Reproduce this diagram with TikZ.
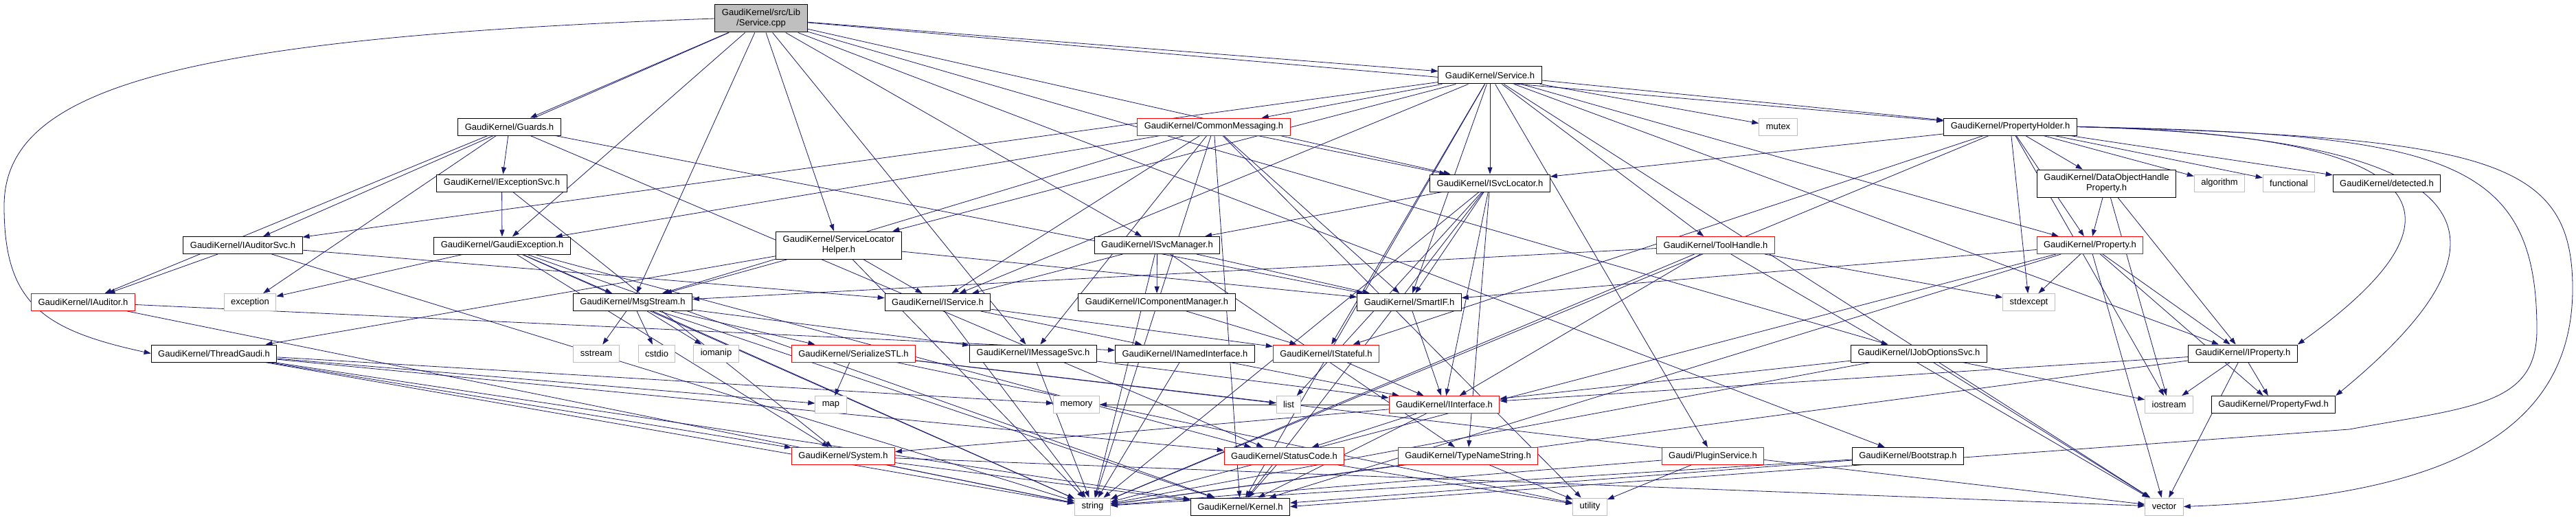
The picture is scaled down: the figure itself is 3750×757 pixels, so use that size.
\documentclass[tikz,border=0pt]{standalone}
\usepackage{fontspec}
\setmainfont{Liberation Sans}
\usepackage{tikz}
\usetikzlibrary{arrows.meta,backgrounds}

\definecolor{edgeblue}{HTML}{191970}
\definecolor{sysgray}{HTML}{BFBFBF}

\begin{document}
\begin{tikzpicture}[
    x=1pt, y=1pt,
    hdr/.style={rectangle, draw=black, fill=white, line width=1pt, font=\fontsize{13}{15}\selectfont, inner xsep=10pt, inner ysep=2pt, minimum height=25pt, align=center},
    redhdr/.style={hdr, draw=red},
    syshdr/.style={hdr, draw=sysgray},
    srcfile/.style={hdr, fill=sysgray, minimum height=40pt},
    twoline/.style={minimum height=40pt},
    dep/.style={draw=edgeblue, line width=0.8pt, -{Triangle[length=10pt,width=7pt]}}
]
\useasboundingbox (0,0) rectangle (3750,-757);

% Source file and first levels
\node [srcfile] (service_cpp) at (1108,-27) {GaudiKernel/src/Lib\\/Service.cpp};
\node [hdr] (service_h) at (2169,-109.5) {GaudiKernel/Service.h};
\node [hdr] (guards) at (741.5,-184.5) {GaudiKernel/Guards.h};
\node [redhdr] (commonmessaging) at (1767,-184.5) {GaudiKernel/CommonMessaging.h};
\node [syshdr] (mutex) at (2588.5,-184.5) {mutex};
\node [hdr] (propertyholder) at (2926.5,-184.5) {GaudiKernel/PropertyHolder.h};
\node [hdr] (iexceptionsvc) at (730.5,-266.5) {GaudiKernel/IExceptionSvc.h};
\node [hdr] (isvclocator) at (2169,-266.5) {GaudiKernel/ISvcLocator.h};
\node [hdr, twoline] (dohproperty) at (3066.5,-267) {GaudiKernel/DataObjectHandle\\Property.h};
\node [syshdr] (algorithm) at (3231,-266.5) {algorithm};
\node [syshdr] (functional) at (3332,-266.5) {functional};
\node [hdr] (detected) at (3474.5,-266.5) {GaudiKernel/detected.h};

% Middle levels
\node [hdr] (iauditorsvc) at (353.5,-357) {GaudiKernel/IAuditorSvc.h};
\node [hdr] (gaudi_exception) at (731,-357.5) {GaudiKernel/GaudiException.h};
\node [hdr, twoline] (sl_helper) at (1221,-357) {GaudiKernel/ServiceLocator\\Helper.h};
\node [hdr] (isvcmanager) at (1684.5,-357) {GaudiKernel/ISvcManager.h};
\node [redhdr] (toolhandle) at (2497.5,-357) {GaudiKernel/ToolHandle.h};
\node [redhdr] (property) at (3042.5,-357) {GaudiKernel/Property.h};
\node [redhdr] (iauditor) at (121,-440) {GaudiKernel/IAuditor.h};
\node [syshdr] (exception) at (364,-440) {exception};
\node [hdr] (msgstream) at (921,-440) {GaudiKernel/MsgStream.h};
\node [hdr] (iservice) at (1365,-440) {GaudiKernel/IService.h};
\node [hdr] (icomponentmanager) at (1684,-440) {GaudiKernel/IComponentManager.h};
\node [hdr] (smartif) at (2051.5,-440) {GaudiKernel/SmartIF.h};
\node [syshdr] (stdexcept) at (2953.5,-440) {stdexcept};
\node [hdr] (threadgaudi) at (311.5,-514.5) {GaudiKernel/ThreadGaudi.h};
\node [syshdr] (sstream) at (868,-514.5) {sstream};
\node [syshdr] (cstdio) at (956,-514.5) {cstdio};
\node [syshdr] (iomanip) at (1042.5,-514.5) {iomanip};
\node [redhdr] (serializestl) at (1242.5,-514.5) {GaudiKernel/SerializeSTL.h};
\node [hdr] (imessagesvc) at (1504,-514.5) {GaudiKernel/IMessageSvc.h};
\node [hdr] (inamed) at (1725,-514.5) {GaudiKernel/INamedInterface.h};
\node [redhdr] (istateful) at (1930.5,-514.5) {GaudiKernel/IStateful.h};
\node [hdr] (ijoboptionssvc) at (2793.5,-514.5) {GaudiKernel/IJobOptionsSvc.h};
\node [hdr] (iproperty) at (3265,-514.5) {GaudiKernel/IProperty.h};

% Lower levels
\node [syshdr] (map) at (1209.5,-589) {map};
\node [syshdr] (memory) at (1567,-589) {memory};
\node [syshdr] (list) at (1876,-589) {list};
\node [redhdr] (iinterface) at (2102.5,-589) {GaudiKernel/IInterface.h};
\node [syshdr] (iostream) at (3157.5,-589) {iostream};
\node [hdr] (propertyfwd) at (3309.5,-589) {GaudiKernel/PropertyFwd.h};
\node [redhdr] (system) at (1227.5,-664) {GaudiKernel/System.h};
\node [redhdr] (statuscode) at (1869.5,-664) {GaudiKernel/StatusCode.h};
\node [redhdr] (typenamestring) at (2137,-664) {GaudiKernel/TypeNameString.h};
\node [redhdr] (pluginservice) at (2493.5,-664) {Gaudi/PluginService.h};
\node [hdr] (bootstrap) at (2777.5,-664) {GaudiKernel/Bootstrap.h};
\node [syshdr] (string) at (1590.5,-737.5) {string};
\node [hdr] (kernel) at (1805.5,-737.5) {GaudiKernel/Kernel.h};
\node [syshdr] (utility) at (2314.5,-737.5) {utility};
\node [syshdr] (vector) at (3150.5,-737.5) {vector};

% Bend points of the outer connectors
\coordinate (leftbend) at (6,-300);
\coordinate (rightbend) at (3745,-420);
\coordinate (rightbend2) at (3693,-480);
\coordinate (bottomrun) at (3420,-625);

\begin{scope}[on background layer]
% Edges - Service.cpp
\path [dep] (service_cpp) -- (service_h);
\path [dep] (service_cpp) -- (guards);
\path [dep] (service_cpp) -- (gaudi_exception);
\path [dep] (service_cpp) -- (iauditorsvc);
\path [dep] (service_cpp.west) .. controls (250,-55) and (6,-130) .. (leftbend) .. controls (6,-440) and (60,-480) .. (threadgaudi.west);
\path [dep] (service_cpp) -- (msgstream);
\path [dep] (service_cpp) -- (sl_helper);
\path [dep] (service_cpp) -- (isvclocator);
\path [dep] (service_cpp) -- (isvcmanager);
\path [dep] (service_cpp) -- (imessagesvc);
\path [dep] (service_cpp) -- (ijoboptionssvc);
\path [dep] (service_cpp) -- (propertyholder);
\path [dep] (service_cpp) -- (bootstrap);

% Edges - Service.h
\path [dep] (service_h) -- (commonmessaging);
\path [dep] (service_h) -- (iauditorsvc);
\path [dep] (service_h) -- (sl_helper);
\path [dep] (service_h) -- (isvclocator);
\path [dep] (service_h) -- (smartif);
\path [dep] (service_h) -- (iservice);
\path [dep] (service_h) -- (istateful);
\path [dep] (service_h) -- (toolhandle);
\path [dep] (service_h) -- (mutex);
\path [dep] (service_h) -- (propertyholder);
\path [dep] (service_h) -- (property);
\path [dep] (service_h) -- (iproperty);
\path [dep] (service_h) -- (pluginservice);
\path [dep] (service_h) -- (vector);
\path [dep] (service_h) -- (kernel);

% Edges - Guards.h, IExceptionSvc.h, GaudiException.h
\path [dep] (guards) -- (iexceptionsvc);
\path [dep] (guards) -- (iauditor);
\path [dep] (guards) -- (exception);
\path [dep] (guards) -- (smartif);
\path [dep] (guards) -- (statuscode);
\path [dep] (iexceptionsvc) -- (gaudi_exception);
\path [dep] (iexceptionsvc) -- (system);
\path [dep] (gaudi_exception) -- (exception);
\path [dep] (gaudi_exception) -- (msgstream);
\path [dep] (gaudi_exception) -- (string);
\path [dep] (gaudi_exception) -- (kernel);
\path [dep] (gaudi_exception) -- (statuscode);
\path [dep] (gaudi_exception) -- (system);

% Edges - auditing and threads
\path [dep] (iauditorsvc) -- (iauditor);
\path [dep] (iauditorsvc) -- (iservice);
\path [dep] (iauditorsvc) -- (string);
\path [dep] (iauditor) -- (inamed);
\path [dep] (iauditor) -- (string);
\path [dep] (threadgaudi) -- (kernel);
\path [dep] (threadgaudi) -- (statuscode);
\path [dep] (threadgaudi) -- (system);
\path [dep] (threadgaudi) -- (string);
\path [dep] (threadgaudi) -- (map);
\path [dep] (threadgaudi) -- (memory);

% Edges - CommonMessaging.h, ServiceLocatorHelper.h
\path [dep] (commonmessaging) -- (msgstream);
\path [dep] (commonmessaging) -- (imessagesvc);
\path [dep] (commonmessaging) -- (iservice);
\path [dep] (commonmessaging) -- (gaudi_exception);
\path [dep] (commonmessaging) -- (isvclocator);
\path [dep] (commonmessaging) -- (smartif);
\path [dep] (commonmessaging) -- (string);
\path [dep] (commonmessaging) -- (utility);
\path [dep] (commonmessaging) -- (kernel);
\path [dep] (sl_helper) -- (threadgaudi);
\path [dep] (sl_helper) -- (msgstream);
\path [dep] (sl_helper) -- (iservice);
\path [dep] (sl_helper) -- (smartif);
\path [dep] (sl_helper) -- (string);

% Edges - MsgStream.h, SerializeSTL.h
\path [dep] (msgstream) -- (imessagesvc);
\path [dep] (msgstream) -- (serializestl);
\path [dep] (msgstream) -- (sstream);
\path [dep] (msgstream) -- (cstdio);
\path [dep] (msgstream) -- (iomanip);
\path [dep] (msgstream) -- (string);
\path [dep] (msgstream) -- (kernel);
\path [dep] (serializestl) -- (map);
\path [dep] (serializestl) -- (list);
\path [dep] (serializestl) -- (vector);
\path [dep] (serializestl) -- (utility);

% Edges - service interfaces
\path [dep] (isvcmanager) -- (icomponentmanager);
\path [dep] (isvcmanager) -- (iservice);
\path [dep] (isvcmanager) -- (smartif);
\path [dep] (isvcmanager) -- (typenamestring);
\path [dep] (isvcmanager) -- (string);
\path [dep] (icomponentmanager) -- (istateful);
\path [dep] (isvclocator) -- (isvcmanager);
\path [dep] (isvclocator) -- (smartif);
\path [dep] (isvclocator) -- (iinterface);
\path [dep] (isvclocator) -- (typenamestring);
\path [dep] (isvclocator) -- (list);
\path [dep] (isvclocator) -- (string);
\path [dep] (isvclocator) -- (kernel);
\path [dep] (iservice) -- (inamed);
\path [dep] (iservice) -- (istateful);
\path [dep] (iservice) -- (string);
\path [dep] (imessagesvc) -- (iinterface);
\path [dep] (imessagesvc) -- (string);
\path [dep] (inamed) -- (iinterface);
\path [dep] (inamed) -- (string);
\path [dep] (istateful) -- (iinterface);
\path [dep] (smartif) -- (iinterface);

% Edges - base headers
\path [dep] (iinterface) -- (system);
\path [dep] (iinterface) -- (statuscode);
\path [dep] (iinterface) -- (kernel);
\path [dep] (iinterface) -- (memory);
\path [dep] (system) -- (kernel);
\path [dep] (system) -- (string);
\path [dep] (system) -- (vector);
\path [dep] (statuscode) -- (kernel);
\path [dep] (statuscode) -- (utility);
\path [dep] (typenamestring) -- (string);
\path [dep] (typenamestring) -- (utility);
\path [dep] (pluginservice) -- (string);
\path [dep] (pluginservice) -- (utility);
\path [dep] (bootstrap) -- (kernel);
\path [dep] (bootstrap) -- (string);

% Edges - ToolHandle.h, IJobOptionsSvc.h
\path [dep] (toolhandle) -- (msgstream);
\path [dep] (toolhandle) -- (iinterface);
\path [dep] (toolhandle) -- (stdexcept);
\path [dep] (toolhandle) -- (string);
\path [dep] (toolhandle) -- (vector);
\path [dep] (ijoboptionssvc) -- (iinterface);
\path [dep] (ijoboptionssvc) -- (string);
\path [dep] (ijoboptionssvc) -- (vector);
\path [dep] (ijoboptionssvc) -- (iostream);

% Edges - properties
\path [dep] (propertyholder) -- (isvclocator);
\path [dep] (propertyholder) -- (istateful);
\path [dep] (propertyholder) -- (dohproperty);
\path [dep] (propertyholder) -- (property);
\path [dep] (propertyholder) -- (algorithm);
\path [dep] (propertyholder) -- (functional);
\path [dep] (propertyholder) -- (detected);
\path [dep] (propertyholder) -- (stdexcept);
\path [dep] (propertyholder) -- (iostream);
\path [dep] (propertyholder) -- (string);
\path [dep] (propertyholder.east) .. controls (3500,-195) and (3640,-290) .. (iproperty.north east);
\path [dep] (propertyholder.east) .. controls (3600,-200) and (3700,-330) .. (propertyfwd.north east);
\path [dep] (propertyholder.east) .. controls (3620,-200) and (3745,-230) .. (rightbend) .. controls (3745,-660) and (3500,-725) .. (vector.east);
\path [dep] (propertyholder.east) .. controls (3560,-195) and (3693,-230) .. (rightbend2) .. controls (3693,-590) and (3600,-592) .. (bottomrun) -- (kernel.east);
\path [dep] (dohproperty) -- (property);
\path [dep] (dohproperty) -- (iproperty);
\path [dep] (dohproperty) -- (iostream);
\path [dep] (property) -- (smartif);
\path [dep] (property) -- (stdexcept);
\path [dep] (property) -- (iproperty);
\path [dep] (property) -- (propertyfwd);
\path [dep] (property) -- (string);
\path [dep] (property) -- (vector);
\path [dep] (property) -- (kernel);
\path [dep] (iproperty) -- (iinterface);
\path [dep] (iproperty) -- (propertyfwd);
\path [dep] (iproperty) -- (iostream);
\path [dep] (iproperty) -- (string);
\path [dep] (iproperty) -- (vector);
\end{scope}

\end{tikzpicture}
\end{document}
